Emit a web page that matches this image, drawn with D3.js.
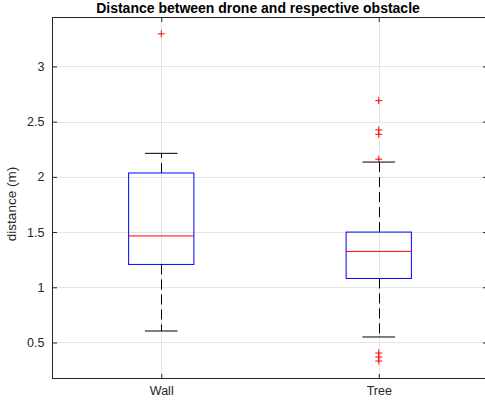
<!DOCTYPE html>
<html>
<head>
<meta charset="UTF-8">
<script src="https://d3js.org/d3.v7.min.js"></script>
<style>
    body {
        margin: 0;
        background: #fff;
        font-family: "Liberation Sans", Arial, sans-serif;
    }

    text {
        fill: #262626;
    }

    .grid line {
        stroke: #e5e5e5;
    }

    .axis path,
    .axis line {
        stroke: #262626;
    }

    text.title {
        font-size: 14px;
        font-weight: bold;
        fill: #000;
    }
</style>
</head>
<body>
<svg width="485" height="403"></svg>
<script>
    // box plot stats
    var categories = ["Wall", "Tree"];
    var q1 = [1.207, 1.08];
    var medians = [1.465, 1.325];
    var q3 = [2.035, 1.50];
    var whiskerLow = [0.604, 0.55];
    var whiskerHigh = [2.213, 2.134];
    var outliers = [
        [3.295],
        [2.69, 2.425, 2.385, 2.16, 0.405, 0.368, 0.332]
    ];
    var yTicks = [0.5, 1, 1.5, 2, 2.5, 3];

    const svg = d3.select("svg"),
        axLeft = 52.5,
        axRight = 487.5,
        axTop = 17.5,
        axBottom = 378.5,
        tickLen = 4.5;

    const x = d3.scaleLinear().domain([0.5, 2.5]).range([axLeft, axRight]);
    const y = d3.scaleLinear().domain([0.174, 3.443]).range([axBottom, axTop]);

    const boxHalf = 0.15,
        capHalf = 0.075;

    // grid
    const grid = svg.append("g").attr("class", "grid");
    grid.selectAll(".hg")
        .data(yTicks)
        .enter().append("line")
        .attr("x1", axLeft).attr("x2", axRight)
        .attr("y1", d => Math.round(y(d)) + 0.5)
        .attr("y2", d => Math.round(y(d)) + 0.5);
    grid.selectAll(".vg")
        .data(categories)
        .enter().append("line")
        .attr("x1", (d, i) => Math.round(x(i + 1)) + 0.5)
        .attr("x2", (d, i) => Math.round(x(i + 1)) + 0.5)
        .attr("y1", axTop).attr("y2", axBottom);

    // axes with inward ticks
    svg.append("g")
        .attr("class", "axis")
        .attr("transform", `translate(0,${axBottom})`)
        .call(d3.axisBottom(x).tickValues([1, 2]).tickFormat((d, i) => categories[i])
            .tickSizeInner(-tickLen).tickSizeOuter(0).tickPadding(8))
        .call(g => g.selectAll("text").style("font-size", "12.5px").attr("font-family", null));
    svg.append("g")
        .attr("class", "axis")
        .attr("transform", `translate(0,${axTop})`)
        .call(d3.axisTop(x).tickValues([1, 2]).tickFormat("")
            .tickSizeInner(-tickLen).tickSizeOuter(0));
    svg.append("g")
        .attr("class", "axis")
        .attr("transform", `translate(${axLeft},0)`)
        .call(d3.axisLeft(y).tickValues(yTicks).tickFormat(d3.format("~g"))
            .tickSizeInner(-tickLen).tickSizeOuter(0).tickPadding(8))
        .call(g => g.selectAll("text").style("font-size", "12.5px").attr("font-family", null));
    svg.append("g")
        .attr("class", "axis")
        .attr("transform", `translate(${axRight},0)`)
        .call(d3.axisRight(y).tickValues(yTicks).tickFormat("")
            .tickSizeInner(-tickLen).tickSizeOuter(0));
    svg.selectAll(".axis .domain").remove();
    svg.append("rect")
        .attr("x", axLeft).attr("y", axTop)
        .attr("width", axRight - axLeft).attr("height", axBottom - axTop)
        .attr("fill", "none").attr("stroke", "#262626");

    // boxes
    const boxes = svg.append("g").selectAll("g")
        .data(categories)
        .enter().append("g");

    boxes.append("line")
        .attr("x1", (d, i) => Math.round(x(i + 1)) + 0.5)
        .attr("x2", (d, i) => Math.round(x(i + 1)) + 0.5)
        .attr("y1", (d, i) => y(q3[i]))
        .attr("y2", (d, i) => y(whiskerHigh[i]))
        .attr("stroke", "#000").attr("stroke-dasharray", "10 5");
    boxes.append("line")
        .attr("x1", (d, i) => Math.round(x(i + 1)) + 0.5)
        .attr("x2", (d, i) => Math.round(x(i + 1)) + 0.5)
        .attr("y1", (d, i) => y(q1[i]))
        .attr("y2", (d, i) => y(whiskerLow[i]))
        .attr("stroke", "#000").attr("stroke-dasharray", "10 5");
    [whiskerHigh, whiskerLow].forEach(w => {
        boxes.append("line")
            .attr("x1", (d, i) => x(i + 1 - capHalf))
            .attr("x2", (d, i) => x(i + 1 + capHalf))
            .attr("y1", (d, i) => y(w[i]))
            .attr("y2", (d, i) => y(w[i]))
            .attr("stroke", "#000");
    });
    boxes.append("rect")
        .attr("x", (d, i) => x(i + 1 - boxHalf))
        .attr("y", (d, i) => y(q3[i]))
        .attr("width", (d, i) => x(i + 1 + boxHalf) - x(i + 1 - boxHalf))
        .attr("height", (d, i) => y(q1[i]) - y(q3[i]))
        .attr("fill", "none").attr("stroke", "#0000ff");
    boxes.append("line")
        .attr("x1", (d, i) => x(i + 1 - boxHalf))
        .attr("x2", (d, i) => x(i + 1 + boxHalf))
        .attr("y1", (d, i) => y(medians[i]))
        .attr("y2", (d, i) => y(medians[i]))
        .attr("stroke", "#ff0000");

    // outliers as + markers
    const pts = [];
    outliers.forEach((arr, i) => arr.forEach(v => pts.push({ i: i, v: v })));
    svg.append("g").selectAll("path")
        .data(pts)
        .enter().append("path")
        .attr("d", d => {
            const cx = x(d.i + 1), cy = y(d.v);
            return `M${cx - 3.5},${cy}H${cx + 3.5}M${cx},${cy - 3.5}V${cy + 3.5}`;
        })
        .attr("stroke", "#ff0000").attr("fill", "none");

    // title and label
    svg.append("text")
        .attr("class", "title")
        .attr("x", 258)
        .attr("y", 13)
        .attr("text-anchor", "middle")
        .text("Distance between drone and respective obstacle");
    svg.append("text")
        .attr("transform", "translate(15.5,204) rotate(-90)")
        .attr("text-anchor", "middle")
        .style("font-size", "13.5px")
        .text("distance (m)");
</script>
</body>
</html>
